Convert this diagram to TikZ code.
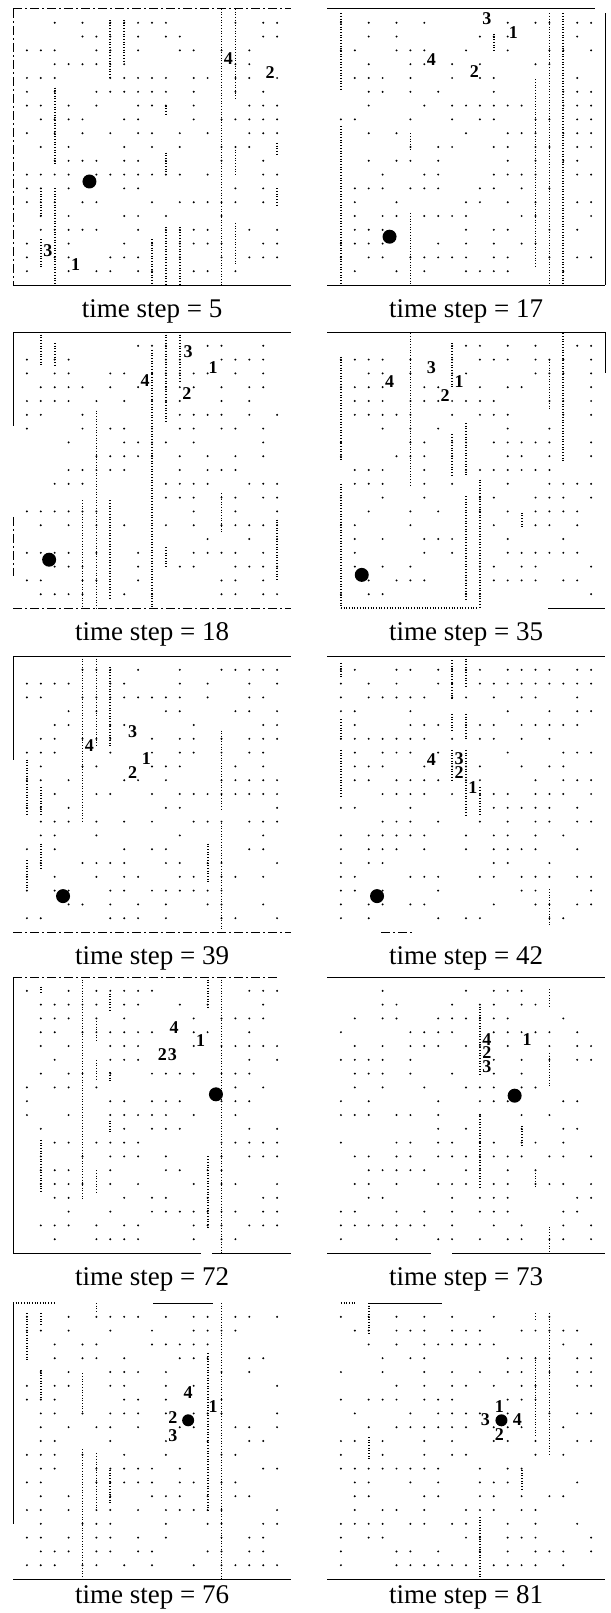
\documentclass[tikz,border=0pt]{standalone}
\usepackage{fontspec}
\setmainfont{Liberation Serif}
\begin{document}
\begin{tikzpicture}[
    cell/.style = {x=13.9pt, y=-13.8pt},
    steplabel/.style = {font=\fontsize{27}{30}\selectfont, anchor=base, inner sep=0pt},
    agent/.style = {font=\bfseries\fontsize{18}{18}\selectfont, inner sep=0pt, text height=12pt, text depth=0pt},
    goal/.style = {circle, fill=black, inner sep=0pt, minimum size=14pt},
    wall/.style = {line width=1.8pt, dash pattern=on 1pt off 1.7pt},
    rim/.style = {line width=1pt},
    rimd/.style = {line width=1pt, dash pattern=on 9pt off 3pt on 2pt off 3pt}]
  \useasboundingbox (0,0) rectangle (610pt,-1613pt);

  \foreach \px/\py/\ts/\cy in {13/9/5/22.35, 327/9/17/22.35, 13/332/18/22.35, 327/332/35/22.35,
      13/656/39/22.35, 327/656/42/22.35, 13/977/72/22.35, 327/977/73/22.35,
      13/1303/76/21.8, 327/1303/81/21.8} {
    \begin{scope}[shift={(\px pt,-\py pt)}, cell]
      \pgfmathsetseed{\ts*131+7}
      \foreach \i in {1,...,19}
        \foreach \j in {1,...,19} {
          \pgfmathsetmacro\r{rnd}
          \ifdim\r pt<0.5pt \fill (\i,\j) circle (1.1pt); \fi
        }
      \node[steplabel] (cap\ts) at (10,\cy) {time step = \ts};
    \end{scope}
  }

  \begin{scope}[shift={(13pt,-9pt)}, cell]
    \draw[rimd] (0,0) -- (20,0);
    \draw[rimd] (0,0) -- (0,20);
    \draw[rim] (0,20) -- (20,20);
    \foreach \k/\a/\b in {15/0/20, 16/0/6.6, 16/10/12, 16/15.5/18.5, 7/0.8/5, 8/0.8/3.9,
        3/5.7/11.2, 3/13/20, 2/13/15, 2/16.7/18.7, 11/7/7.6, 11/10.4/12, 11/15.8/20,
        12/15.8/20, 10/16.7/20, 19/9.7/10.5, 19/13/14.3}
      \draw[wall] (\k,\a) -- (\k,\b);
    \node[goal] (g5) at (5.5,12.5) {};
    \node[agent] (a4s5) at (15.5,3.6) {4};
    \node[agent] (a2s5) at (18.5,4.6) {2};
    \node[agent] (a3s5) at (2.5,17.5) {3};
    \node[agent] (a1s5) at (4.5,18.5) {1};
  \end{scope}

  \begin{scope}[shift={(327pt,-9pt)}, cell]
    \draw[rim] (0,0) -- (19.3,0);
    \draw[rim] (0,20) -- (20,20);
    \draw[rim] (20,0.3) -- (20,20);
    \foreach \k/\a/\b in {1/0.3/5.9, 1/8.5/20, 15/5.1/18.7, 16/0.3/20, 17/0.3/20,
        12/1.8/3, 6/9/10.2, 6/14.8/20}
      \draw[wall] (\k,\a) -- (\k,\b);
    \node[goal] (g17) at (4.5,16.5) {};
    \node[agent] (a3s17) at (11.5,0.7) {3};
    \node[agent] (a1s17) at (13.4,1.7) {1};
    \node[agent] (a4s17) at (7.5,3.65) {4};
    \node[agent] (a2s17) at (10.6,4.5) {2};
  \end{scope}

  \begin{scope}[shift={(13pt,-332pt)}, cell]
    \draw[rim] (0,0) -- (20,0);
    \draw[rim] (0,0) -- (0,6.8);
    \draw[rimd] (0,13.4) -- (0,17.7);
    \draw[rimd] (0,20) -- (20,20);
    \foreach \k/\a/\b in {6/5.7/20, 10/1.3/20, 12/0/3.7, 11/0/6.6, 11/15.6/17, 7/12.2/19.4,
        5/12.2/20, 2/0/2.5, 3/0.8/2.5, 15/11.7/14.6, 19/13.6/18}
      \draw[wall] (\k,\a) -- (\k,\b);
    \node[goal] (g18) at (2.6,16.5) {};
    \node[agent] (a3s18) at (12.6,1.4) {3};
    \node[agent] (a1s18) at (14.4,2.6) {1};
    \node[agent] (a4s18) at (9.5,3.5) {4};
    \node[agent] (a2s18) at (12.5,4.45) {2};
  \end{scope}

  \begin{scope}[shift={(327pt,-332pt)}, cell]
    \draw[rim] (0,0) -- (20,0);
    \draw[rim] (20,0) -- (20,3);
    \draw[wall] (1,20) -- (10.9,20);
    \draw[rim] (15.9,20) -- (20,20);
    \foreach \k/\a/\b in {1/1.8/9.3, 1/11/20, 6/0.1/11.2, 9/7.4/10.4, 9/0.8/4, 10/6.6/10.5,
        10/11.9/19.4, 11/10.7/20, 16/2/5.7, 17/0.1/9.3, 14/13.1/14.1}
      \draw[wall] (\k,\a) -- (\k,\b);
    \node[goal] (g35) at (2.5,17.6) {};
    \node[agent] (a3s35) at (7.5,2.6) {3};
    \node[agent] (a4s35) at (4.5,3.6) {4};
    \node[agent] (a1s35) at (9.5,3.6) {1};
    \node[agent] (a2s35) at (8.5,4.6) {2};
  \end{scope}

  \begin{scope}[shift={(13pt,-656pt)}, cell]
    \draw[rim] (0,0) -- (20,0);
    \draw[rim] (0,0) -- (0,7.5);
    \draw[rimd] (0,20) -- (20,20);
    \foreach \k/\a/\b in {5/0/12.1, 6/0/6.6, 7/0.8/6.6, 1/7.5/11.6, 1/14.8/16.9, 2/9.5/11.6,
        2/13.6/15.5, 15/5.4/11.2, 15/12.1/19.9, 14/13.6/16.5}
      \draw[wall] (\k,\a) -- (\k,\b);
    \node[goal] (g39) at (3.6,17.4) {};
    \node[agent] (a3s39) at (8.6,5.5) {3};
    \node[agent] (a4s39) at (5.5,6.5) {4};
    \node[agent] (a1s39) at (9.6,7.4) {1};
    \node[agent] (a2s39) at (8.6,8.45) {2};
  \end{scope}

  \begin{scope}[shift={(327pt,-656pt)}, cell]
    \draw[rim] (0,0) -- (20,0);
    \draw[rimd] (3.9,20) -- (6.1,20);
    \foreach \k/\a/\b in {9/0.3/3.2, 9/4.2/5.4, 9/6.8/9, 10/0/2.2, 10/4.2/6.1, 10/6.8/11.6,
        11/9.5/11.6, 16/16.9/19.6, 1/0.5/1.5, 1/4.6/6.1, 1/6.8/10.2}
      \draw[wall] (\k,\a) -- (\k,\b);
    \node[goal] (g42) at (3.6,17.4) {};
    \node[agent] (a4s42) at (7.5,7.5) {4};
    \node[agent] (a3s42) at (9.5,7.4) {3};
    \node[agent] (a2s42) at (9.5,8.45) {2};
    \node[agent] (a1s42) at (10.5,9.5) {1};
  \end{scope}

  \begin{scope}[shift={(13pt,-977pt)}, cell]
    \draw[rimd] (0,0) -- (19,0);
    \draw[rim] (0,0) -- (0,20);
    \draw[rim] (0,20) -- (13.5,20);
    \draw[rim] (14.3,20) -- (20,20);
    \foreach \k/\a/\b in {5/0.2/16.1, 6/3/4.6, 6/6/7.5, 6/14/15.7, 2/0.7/1.2, 2/11.8/15.7,
        14/0/2.2, 14/13/18.1, 15/0/20, 7/1.2/2.4, 7/6.9/7.5, 7/10.4/11.3}
      \draw[wall] (\k,\a) -- (\k,\b);
    \node[goal] (g72) at (14.6,8.5) {};
    \node[agent] (a4s72) at (11.6,3.65) {4};
    \node[agent] (a1s72) at (13.5,4.6) {1};
    \node[agent] (a2s72) at (10.75,5.65) {2};
    \node[agent] (a3s72) at (11.47,5.65) {3};
  \end{scope}

  \begin{scope}[shift={(327pt,-977pt)}, cell]
    \draw[rim] (0,0) -- (20,0);
    \draw[rim] (0,20) -- (7.5,20);
    \draw[rim] (9,20) -- (20,20);
    \foreach \k/\a/\b in {11/2.15/7.2, 11/9.9/15.2, 16/0.9/2.15, 16/5.5/7.9, 16/18.1/20,
        15/14.2/15.2, 14/10.8/12.3}
      \draw[wall] (\k,\a) -- (\k,\b);
    \node[goal] (g73) at (13.5,8.6) {};
    \node[agent] (a4s73) at (11.5,4.5) {4};
    \node[agent] (a2s73) at (11.5,5.5) {2};
    \node[agent] (a3s73) at (11.5,6.5) {3};
    \node[agent] (a1s73) at (14.4,4.5) {1};
  \end{scope}

  \begin{scope}[shift={(13pt,-1303pt)}, cell]
    \draw[wall] (0,0) -- (3,0);
    \draw[rim] (10.1,0) -- (14.4,0);
    \draw[rim] (0,0) -- (0,16);
    \draw[rim] (0,20) -- (20,20);
    \foreach \k/\a/\b in {15/0/20, 14/3.65/15, 5/5.1/8, 5/10.6/20, 6/0/0.75, 6/10.9/15,
        2/0.75/1.7, 2/4.85/7, 1/0.75/4.1, 7/12.1/14.5}
      \draw[wall] (\k,\a) -- (\k,\b);
    \node[goal, minimum size=12pt] (g76) at (12.6,8.5) {};
    \node[agent] (a4s76) at (12.6,6.5) {4};
    \node[agent] (a1s76) at (14.4,7.5) {1};
    \node[agent] (a2s76) at (11.5,8.3) {2};
    \node[agent] (a3s76) at (11.5,9.6) {3};
  \end{scope}

  \begin{scope}[shift={(327pt,-1303pt)}, cell]
    \draw[wall] (1,0) -- (2,0);
    \draw[rim] (3.1,0) -- (8.25,0);
    \draw[rim] (0,20) -- (20,20);
    \foreach \k/\a/\b in {16/0.75/11.1, 15/0.75/1.2, 15/3.9/9.7, 3/0/2.2, 3/9.7/11.4,
        11/15.5/20, 14/12.1/13.5}
      \draw[wall] (\k,\a) -- (\k,\b);
    \node[goal, minimum size=12pt] (g81) at (12.55,8.5) {};
    \node[agent] (a1s81) at (12.4,7.5) {1};
    \node[agent] (a3s81) at (11.4,8.45) {3};
    \node[agent] (a4s81) at (13.7,8.45) {4};
    \node[agent] (a2s81) at (12.4,9.5) {2};
  \end{scope}
\end{tikzpicture}
\end{document}
